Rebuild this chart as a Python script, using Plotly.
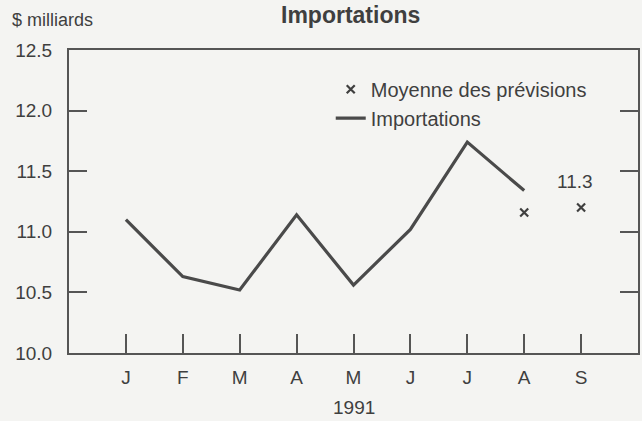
import plotly.graph_objects as go

# ---------- data ----------
mois = ["J", "F", "M", "A", "M", "J", "J", "A", "S"]
mois_pos = list(range(len(mois)))

importations = [11.10, 10.63, 10.52, 11.14, 10.56, 11.02, 11.74, 11.34]
prev_pos = [7, 8]
prev_moyenne = [11.16, 11.20]
prev_label = "11.3"

INK = "#3f3f3f"
BG = "#f4f4f2"
FONT = "Liberation Sans, Arial, sans-serif"

fig = go.Figure()

fig.add_trace(go.Scatter(
    x=prev_pos, y=prev_moyenne, mode="markers",
    name="Moyenne des prévisions",
    marker=dict(symbol="x-thin", size=8, line=dict(width=2.2, color=INK), color=INK),
))
fig.add_trace(go.Scatter(
    x=mois_pos[:len(importations)], y=importations, mode="lines",
    name="Importations",
    line=dict(color="#4a4a4a", width=3.2),
))

fig.add_annotation(x=prev_pos[-1], y=prev_moyenne[-1], text=prev_label,
                   showarrow=False, yshift=26, xshift=-6,
                   font=dict(size=19, color=INK))

# title sits right against the top edge, as in the scan
fig.add_annotation(text="<b>Importations</b>", xref="paper", yref="paper",
                   x=0.495, y=1.114, xanchor="center", yanchor="middle",
                   showarrow=False, font=dict(size=23, color=INK))
fig.add_annotation(text="$ milliards", xref="paper", yref="paper",
                   x=-0.103, y=1.1, xanchor="left", yanchor="middle",
                   showarrow=False, font=dict(size=18, color=INK))
fig.add_annotation(text="1991", xref="paper", yref="paper",
                   x=0.5, y=-0.18, xanchor="center", yanchor="middle",
                   showarrow=False, font=dict(size=19, color=INK))

fig.update_layout(
    width=642, height=421,
    margin=dict(l=69, r=2, t=50, b=68),
    paper_bgcolor=BG, plot_bgcolor=BG,
    font=dict(family=FONT, color=INK, size=19),
    showlegend=True,
    legend=dict(x=0.46, y=0.935, xanchor="left", yanchor="top",
                bgcolor="rgba(0,0,0,0)", font=dict(size=20, color=INK),
                traceorder="normal"),
    xaxis=dict(
        range=[-1, 9], tickvals=mois_pos, ticktext=mois,
        ticks="inside", ticklen=19, tickwidth=2, tickcolor="#555",
        showline=True, linewidth=2, linecolor="#555", mirror=True,
        showgrid=False, zeroline=False, ticklabelstandoff=6,
        tickfont=dict(size=19, color=INK),
    ),
    yaxis=dict(
        range=[10, 12.5], dtick=0.5, tickformat=".1f",
        ticks="inside", ticklen=18, tickwidth=2, tickcolor="#555",
        showline=True, linewidth=2, linecolor="#555", mirror="ticks",
        showgrid=False, zeroline=False, ticklabelstandoff=11,
        tickfont=dict(size=19, color=INK),
    ),
)

# the page's default body margin would push the figure 8px off the window
fig.write_html("out.html", config={"displayModeBar": False},
               post_script="document.body.style.margin='0';")
